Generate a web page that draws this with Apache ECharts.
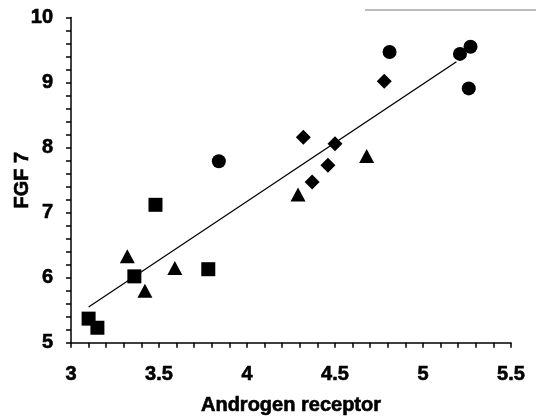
<!DOCTYPE html>
<html>
<head>
<meta charset="utf-8">
<script src="https://cdn.jsdelivr.net/npm/echarts@6/dist/echarts.min.js"></script>
<style>
html,body{margin:0;padding:0;background:#fff;}
#chart{width:536px;height:416px;}
</style>
</head>
<body>
<div id="chart"></div>
<script>
// Data
var circleX = [3.84, 4.81, 5.21, 5.27, 5.26];
var circleY = [7.79, 9.47, 9.44, 9.55, 8.91];
var diamondX = [4.78, 4.32, 4.50, 4.46, 4.37];
var diamondY = [9.02, 8.16, 8.06, 7.73, 7.47];
var triangleX = [4.68, 4.29, 3.32, 3.42, 3.59];
var triangleY = [7.87, 7.28, 6.33, 5.80, 6.15];
var squareX = [3.48, 3.36, 3.78, 3.10, 3.15];
var squareY = [7.12, 6.02, 6.13, 5.37, 5.23];
var trendX = [3.10, 5.19];
var trendY = [5.55, 9.32];
var xTicks = [3, 3.5, 4, 4.5, 5, 5.5];
var yTicks = [5, 6, 7, 8, 9, 10];

function pairs(xs, ys){ return xs.map(function(x,i){ return [x, ys[i]]; }); }

var font = 'Liberation Sans, Arial, sans-serif';
var txt = {fontFamily: font, fontWeight: 'bold', fontSize: 20, color: '#000',
           textBorderColor: '#000', textBorderWidth: 0.6};
var chart = echarts.init(document.getElementById('chart'), null, {renderer:'canvas'});
chart.setOption({
  backgroundColor: '#fff',
  animation: false,
  grid: {left: 71, right: 25, top: 17.5, bottom: 73.3, containLabel: false, outerBoundsMode: 'none'},
  xAxis: {
    type: 'value', min: xTicks[0], max: xTicks[xTicks.length-1], interval: 0.5,
    name: 'Androgen receptor', nameLocation: 'middle', nameGap: 53, nameMoveOverlap: false,
    nameTextStyle: txt,
    axisLine: {show: true, onZero: false, lineStyle: {color: '#000', width: 1.5}},
    axisTick: {show: true, inside: false, length: 5, lineStyle: {color: '#000', width: 1.5}},
    minorTick: {show: true, splitNumber: 5, length: 5, lineStyle: {color: '#000', width: 1.5}},
    axisLabel: Object.assign({margin: 22}, txt),
    splitLine: {show: false}
  },
  yAxis: {
    type: 'value', min: yTicks[0], max: yTicks[yTicks.length-1], interval: 1,
    name: 'FGF 7', nameLocation: 'middle', nameGap: 39, nameRotate: 90, nameMoveOverlap: false,
    nameTextStyle: txt,
    axisLine: {show: true, onZero: false, lineStyle: {color: '#000', width: 1.5}},
    axisTick: {show: true, inside: false, length: 5, lineStyle: {color: '#000', width: 1.5}},
    minorTick: {show: true, splitNumber: 5, length: 5, lineStyle: {color: '#000', width: 1.5}},
    axisLabel: Object.assign({margin: 18}, txt),
    splitLine: {show: false}
  },
  graphic: [{
    type: 'line', shape: {x1: 365, y1: 10, x2: 536, y2: 10},
    style: {stroke: '#777', lineWidth: 1}
  }],
  series: [
    {type: 'line', data: pairs(trendX, trendY), showSymbol: false, symbol: 'none',
     lineStyle: {color: '#000', width: 1.3}, z: 1},
    {type: 'scatter', data: pairs(circleX, circleY), symbol: 'circle', symbolSize: 14,
     itemStyle: {color: '#000', opacity: 1}, z: 3},
    {type: 'scatter', data: pairs(diamondX, diamondY), symbol: 'diamond', symbolSize: 15,
     itemStyle: {color: '#000', opacity: 1}, z: 3},
    {type: 'scatter', data: pairs(triangleX, triangleY), symbol: 'triangle', symbolSize: [15, 14],
     itemStyle: {color: '#000', opacity: 1}, z: 3},
    {type: 'scatter', data: pairs(squareX, squareY), symbol: 'rect', symbolSize: 14,
     itemStyle: {color: '#000', opacity: 1}, z: 3}
  ]
});
</script>
</body>
</html>
